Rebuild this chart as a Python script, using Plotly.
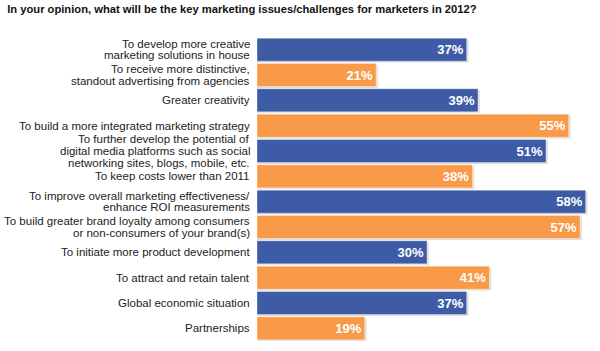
import plotly.graph_objects as go

title = "In your opinion, what will be the key marketing issues/challenges for marketers in 2012?"
categories = [
    "To develop more creative\nmarketing solutions in house",
    "To receive more distinctive,\nstandout advertising from agencies",
    "Greater creativity",
    "To build a more integrated marketing strategy",
    "To further develop the potential of\ndigital media platforms such as social\nnetworking sites, blogs, mobile, etc.",
    "To keep costs lower than 2011",
    "To improve overall marketing effectiveness/\nenhance ROI measurements",
    "To build greater brand loyalty among consumers\nor non-consumers of your brand(s)",
    "To initiate more product development",
    "To attract and retain talent",
    "Global economic situation",
    "Partnerships",
]
values = [37, 21, 39, 55, 51, 38, 58, 57, 30, 41, 37, 19]

BLUE = "#3E5BA5"
ORANGE = "#F89A48"
colors = [BLUE if i % 2 == 0 else ORANGE for i in range(len(values))]
labels = [f"{v}%" for v in values]
idx = list(range(len(values)))

fig = go.Figure()
# soft drop shadow
fig.add_trace(go.Bar(
    y=idx, x=[v + 0.35 for v in values], orientation="h",
    width=0.91, offset=-0.40,
    marker=dict(color="rgba(0,0,0,0.12)", line=dict(width=0)),
    hoverinfo="skip", showlegend=False,
))
fig.add_trace(go.Bar(
    y=idx, x=values, orientation="h",
    width=0.91, offset=-0.455,
    marker=dict(color=colors, line=dict(color="rgba(255,255,255,0.35)", width=1)),
    text=labels, textposition="inside", insidetextanchor="end",
    textfont=dict(family="Liberation Sans, Arial, sans-serif", size=13, color="white", weight="bold"),
    cliponaxis=False, showlegend=False,
))

# category labels, one annotation per line for tight line spacing
LINE = 11.6
annotations = []
for i, cat in enumerate(categories):
    lines = cat.split("\n")
    n = len(lines)
    for k, ln in enumerate(lines):
        annotations.append(dict(
            x=0, xref="paper", xanchor="right", xshift=-5,
            y=i, yref="y", yanchor="middle",
            yshift=((n - 1) / 2 - k) * LINE,
            text=ln, showarrow=False,
            font=dict(family="Liberation Sans, Arial, sans-serif", size=11.5, color="#222222"),
        ))

fig.update_layout(
    width=600, height=351,
    margin=dict(l=257, r=3, t=37, b=10),
    paper_bgcolor="white", plot_bgcolor="white",
    barmode="overlay",
    title=dict(text=title, x=0.012, xanchor="left", y=0.985, yanchor="top",
               font=dict(family="Liberation Sans, Arial, sans-serif",
                         size=11.2, color="#111111", weight="bold")),
    xaxis=dict(range=[0, 60], visible=False, fixedrange=True),
    yaxis=dict(
        tickmode="array", tickvals=idx, ticktext=[""] * len(idx),
        range=[len(values) - 0.5, -0.5], showgrid=False, zeroline=False,
        showline=False, ticks="", ticklen=0, showticklabels=False,
    ),
    annotations=annotations,
)

fig.write_html("out.html")
